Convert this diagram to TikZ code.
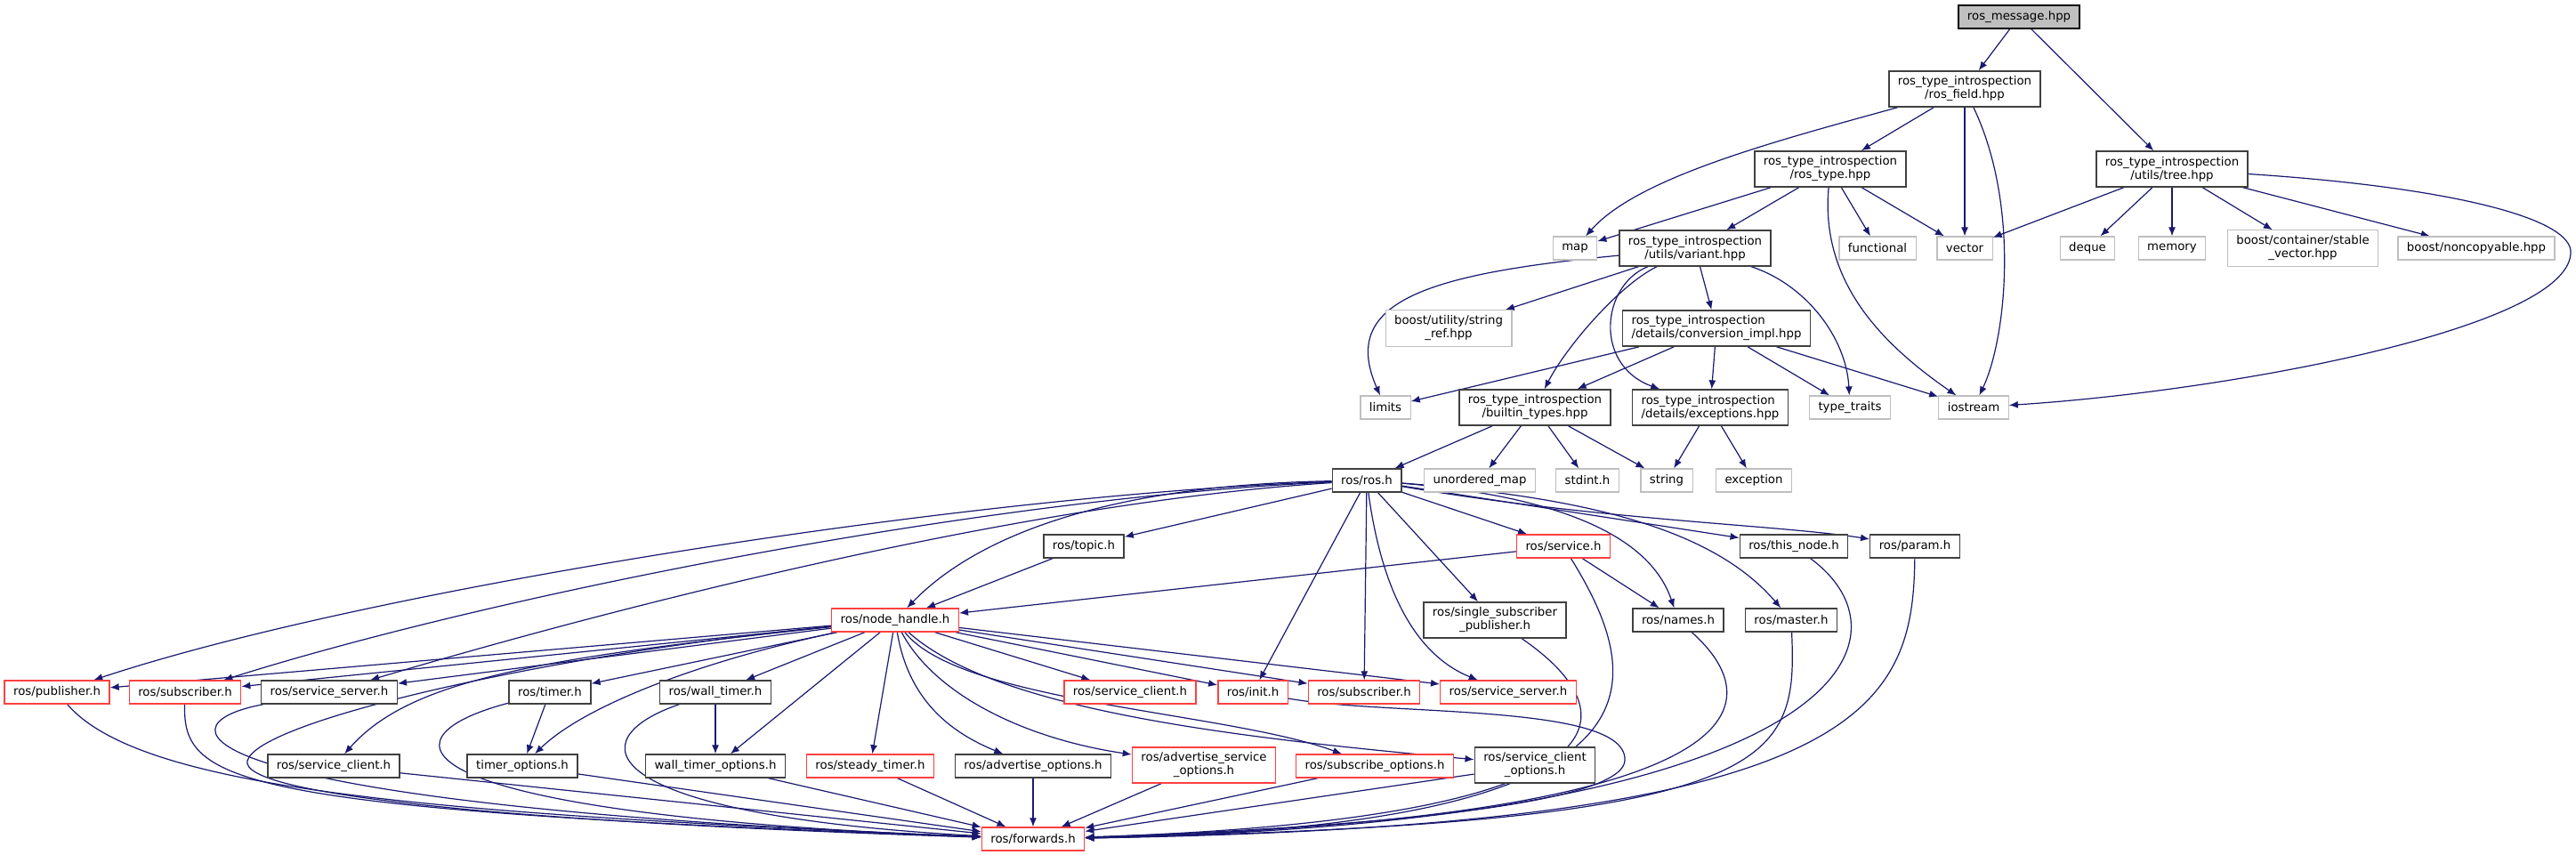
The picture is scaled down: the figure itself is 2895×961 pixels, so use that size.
\documentclass[tikz,border=0pt]{standalone}
\usepackage{fontspec}
\setmainfont{DejaVu Sans}
\usetikzlibrary{arrows.meta}
\pgfdeclarelayer{background}
\pgfsetlayers{background,main}
\definecolor{edgeblue}{RGB}{25,25,112}
\definecolor{boxgray}{RGB}{64,64,64}
\definecolor{sysgray}{RGB}{191,191,191}
\definecolor{cutred}{RGB}{255,64,64}

\begin{document}
\begin{tikzpicture}[x=0.5pt,y=-0.5pt,
  file/.style={draw=boxgray,line width=0.7pt,fill=white,align=center,
    font=\fontsize{6.65}{7.5}\selectfont,inner xsep=5pt,inner ysep=3pt,minimum height=13pt},
  rootfile/.style={file,draw=black,fill=sysgray},
  sysfile/.style={file,draw=sysgray,line width=0.6pt},
  cutfile/.style={file,draw=cutred},
  incl/.style={draw=edgeblue,line width=0.6pt,-{Latex[length=5pt,width=4pt]}}]

% the header itself and the introspection headers
\node[rootfile] (msg) at (2269,19) {ros\_message.hpp};
\node[file] (field) at (2208,100) {ros\_type\_introspection\\/ros\_field.hpp};
\node[file] (rtype) at (2057,190) {ros\_type\_introspection\\/ros\_type.hpp};
\node[file] (tree) at (2441,190) {ros\_type\_introspection\\/utils/tree.hpp};
\node[sysfile] (map) at (1770,279) {map};
\node[file] (variant) at (1905,279) {ros\_type\_introspection\\/utils/variant.hpp};
\node[sysfile] (functional) at (2110,279) {functional};
\node[sysfile] (vector) at (2208,279) {vector};
\node[sysfile] (deque) at (2346,279) {deque};
\node[sysfile] (memory) at (2441,279) {memory};
\node[sysfile] (stablevec) at (2588,279) {boost/container/stable\\\_vector.hpp};
\node[sysfile] (noncopy) at (2783,279) {boost/noncopyable.hpp};
\node[sysfile] (stringref) at (1628,369) {boost/utility/string\\\_ref.hpp};
\node[file,align=left] (conv) at (1929,369) {ros\_type\_introspection\\/details/conversion\_impl.hpp};
\node[sysfile] (limits) at (1557,458) {limits};
\node[file] (builtin) at (1725,458) {ros\_type\_introspection\\/builtin\_types.hpp};
\node[file,align=left] (except) at (1922,458) {ros\_type\_introspection\\/details/exceptions.hpp};
\node[sysfile] (traits) at (2079,458) {type\_traits};
\node[sysfile] (iostream) at (2218,458) {iostream};
\node[file] (ros) at (1536,540) {ros/ros.h};
\node[sysfile] (umap) at (1663,540) {unordered\_map};
\node[sysfile] (stdint) at (1784,540) {stdint.h};
\node[sysfile] (string) at (1873,540) {string};
\node[sysfile] (exception) at (1971,540) {exception};

% the ros headers
\node[file] (topic) at (1218,614) {ros/topic.h};
\node[cutfile] (service) at (1757,614) {ros/service.h};
\node[file] (thisnode) at (2016,614) {ros/this\_node.h};
\node[file] (param) at (2152,614) {ros/param.h};
\node[cutfile] (nh) at (1006,697) {ros/node\_handle.h};
\node[file] (sspub) at (1680,697) {ros/single\_subscriber\\\_publisher.h};
\node[file] (names) at (1886,697) {ros/names.h};
\node[file] (master) at (2013,697) {ros/master.h};
\node[cutfile] (pub) at (64,778) {ros/publisher.h};
\node[cutfile] (subl) at (208,778) {ros/subscriber.h};
\node[file] (ssrvb) at (370,778) {ros/service\_server.h};
\node[file] (timer) at (618,778) {ros/timer.h};
\node[file] (wtimer) at (804,778) {ros/wall\_timer.h};
\node[cutfile] (sclir) at (1270,778) {ros/service\_client.h};
\node[cutfile] (init) at (1408,778) {ros/init.h};
\node[cutfile] (subr) at (1533,778) {ros/subscriber.h};
\node[cutfile] (ssrvr) at (1695,778) {ros/service\_server.h};
\node[file] (sclib) at (375,861) {ros/service\_client.h};
\node[file] (topts) at (587,861) {timer\_options.h};
\node[file] (wtopts) at (804,861) {wall\_timer\_options.h};
\node[cutfile] (steady) at (978,861) {ros/steady\_timer.h};
\node[file] (advopts) at (1161,861) {ros/advertise\_options.h};
\node[cutfile] (advsrv) at (1353,860) {ros/advertise\_service\\\_options.h};
\node[cutfile] (subopts) at (1545,861) {ros/subscribe\_options.h};
\node[file] (scliopts) at (1725,860) {ros/service\_client\\\_options.h};
\node[cutfile] (fwd) at (1161,943) {ros/forwards.h};

\begin{pgfonlayer}{background}
% page size of the include graph, in pixels of the original image
\fill[white] (0,0) rectangle (2895,961);

% includes of the introspection part
\draw[incl] (msg) -- (field);
\draw[incl] (msg) -- (tree);
\draw[incl] (field) .. controls (1990,160) and (1840,200) .. (map);
\draw[incl] (field) -- (rtype);
\draw[incl] (field) -- (vector);
\draw[incl] (field) .. controls (2270,230) and (2255,380) .. (iostream);
\draw[incl] (rtype) -- (map);
\draw[incl] (rtype) -- (variant);
\draw[incl] (rtype) -- (functional);
\draw[incl] (rtype) -- (vector);
\draw[incl] (rtype) .. controls (2045,320) and (2120,390) .. (iostream);
\draw[incl] (tree) -- (vector);
\draw[incl] (tree) -- (deque);
\draw[incl] (tree) -- (memory);
\draw[incl] (tree) -- (stablevec);
\draw[incl] (tree) -- (noncopy);
\draw[incl] (tree) .. controls (2750,210) and (2893,245) .. (2889,285)
  .. controls (2884,370) and (2500,440) .. (iostream);
\draw[incl] (variant) .. controls (1600,308) and (1505,340) .. (limits);
\draw[incl] (variant) -- (stringref);
\draw[incl] (variant) -- (conv);
\draw[incl] (variant) .. controls (1820,320) and (1760,390) .. (builtin);
\draw[incl] (variant) .. controls (1800,320) and (1790,410) .. (except);
\draw[incl] (variant) .. controls (2030,320) and (2075,380) .. (traits);
\draw[incl] (conv) -- (limits);
\draw[incl] (conv) -- (builtin);
\draw[incl] (conv) -- (except);
\draw[incl] (conv) -- (traits);
\draw[incl] (conv) -- (iostream);
\draw[incl] (builtin) -- (ros);
\draw[incl] (builtin) -- (umap);
\draw[incl] (builtin) -- (stdint);
\draw[incl] (builtin) -- (string);
\draw[incl] (except) -- (string);
\draw[incl] (except) -- (exception);

% includes of ros/ros.h
\draw[incl] (ros) .. controls (1100,555) and (420,660) .. (pub);
\draw[incl] (ros) .. controls (1100,560) and (550,670) .. (subl);
\draw[incl] (ros) .. controls (1150,565) and (700,680) .. (ssrvb);
\draw[incl] (ros) .. controls (1250,545) and (1100,600) .. (nh);
\draw[incl] (ros) -- (topic);
\draw[incl] (ros) -- (init);
\draw[incl] (ros) -- (subr);
\draw[incl] (ros) .. controls (1555,680) and (1600,740) .. (ssrvr);
\draw[incl] (ros) -- (sspub);
\draw[incl] (ros) -- (service);
\draw[incl] (ros) -- (thisnode);
\draw[incl] (ros) .. controls (1800,585) and (2000,590) .. (param);
\draw[incl] (ros) .. controls (1720,555) and (1850,590) .. (names);
\draw[incl] (ros) .. controls (1800,560) and (1930,600) .. (master);
\draw[incl] (service) -- (nh);
\draw[incl] (service) -- (names);
\draw[incl] (topic) -- (nh);

% includes of ros/node_handle.h
\draw[incl] (nh) -- (pub);
\draw[incl] (nh) -- (subl);
\draw[incl] (nh) -- (ssrvb);
\draw[incl] (nh) .. controls (600,740) and (460,765) .. (sclib);
\draw[incl] (nh) -- (timer);
\draw[incl] (nh) .. controls (800,740) and (660,790) .. (topts);
\draw[incl] (nh) -- (wtimer);
\draw[incl] (nh) -- (wtopts);
\draw[incl] (nh) -- (steady);
\draw[incl] (nh) .. controls (1020,780) and (1060,820) .. (advopts);
\draw[incl] (nh) .. controls (1050,780) and (1150,830) .. (advsrv);
\draw[incl] (nh) .. controls (1080,790) and (1380,800) .. (subopts);
\draw[incl] (nh) .. controls (1120,800) and (1400,830) .. (scliopts);
\draw[incl] (nh) -- (sclir);
\draw[incl] (nh) -- (init);
\draw[incl] (nh) -- (subr);
\draw[incl] (nh) -- (ssrvr);
\draw[incl] (timer) -- (topts);
\draw[incl] (wtimer) -- (wtopts);

% everything ends in ros/forwards.h
\draw[incl] (nh) .. controls (620,735) and (290,810) .. (278,855)
  .. controls (268,895) and (600,925) .. (fwd);
\draw[incl] (pub) .. controls (160,890) and (500,915) .. (fwd);
\draw[incl] (subl) .. controls (205,880) and (260,910) .. (fwd);
\draw[incl] (ssrvb) .. controls (170,815) and (200,905) .. (fwd);
\draw[incl] (sclib) -- (fwd);
\draw[incl] (timer) .. controls (420,830) and (440,915) .. (fwd);
\draw[incl] (topts) -- (fwd);
\draw[incl] (wtimer) .. controls (650,830) and (660,915) .. (fwd);
\draw[incl] (wtopts) -- (fwd);
\draw[incl] (steady) -- (fwd);
\draw[incl] (advopts) -- (fwd);
\draw[incl] (advsrv) -- (fwd);
\draw[incl] (subopts) -- (fwd);
\draw[incl] (scliopts) -- (fwd);
\draw[incl] (init) .. controls (1560,805) and (1830,790) .. (1826,855)
  .. controls (1822,915) and (1400,935) .. (fwd);
\draw[incl] (sspub) .. controls (1830,800) and (1850,920) .. (fwd);
\draw[incl] (service) .. controls (1860,780) and (1870,930) .. (fwd);
\draw[incl] (names) .. controls (1990,790) and (1990,920) .. (fwd);
\draw[incl] (master) .. controls (2020,860) and (2000,925) .. (fwd);
\draw[incl] (thisnode) .. controls (2160,720) and (2070,925) .. (fwd);
\draw[incl] (param) .. controls (2150,800) and (2090,928) .. (fwd);
\end{pgfonlayer}
\end{tikzpicture}
\end{document}
